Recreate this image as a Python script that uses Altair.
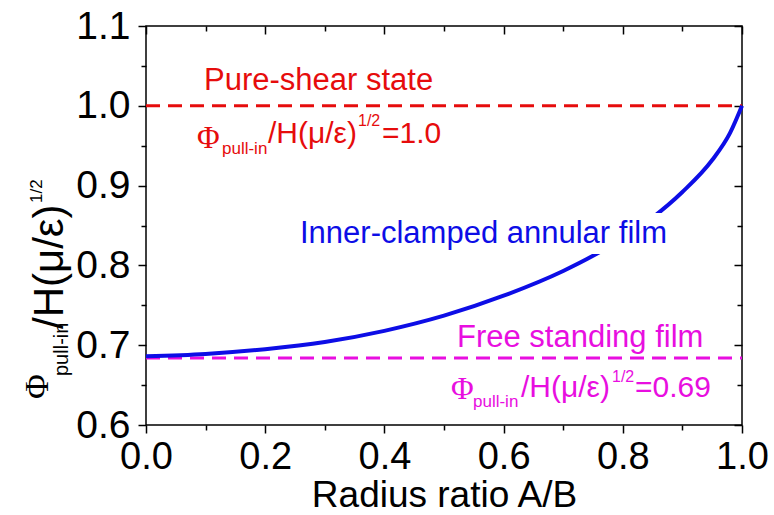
import altair as alt
import pandas as pd

# ---- data ----
ratio = [0.0, 0.1, 0.2, 0.3, 0.4, 0.5, 0.6, 0.7, 0.75, 0.8, 0.85, 0.9, 0.95, 0.98, 1.0]
phi = [0.686, 0.689, 0.695, 0.704, 0.718, 0.737, 0.762, 0.793, 0.812, 0.834, 0.860, 0.892, 0.932, 0.966, 1.0]
level_x = [0.0, 1.0]
shear_level = [1.0, 1.0]
free_level = [0.684, 0.684]

x_major = [0.0, 0.2, 0.4, 0.6, 0.8, 1.0]
x_minor = [0.1, 0.3, 0.5, 0.7, 0.9]
y_major = [0.6, 0.7, 0.8, 0.9, 1.0, 1.1]
y_minor = [0.65, 0.75, 0.85, 0.95, 1.05]

# ---- styling ----
W, H = 596, 399
L, T = 146, 26
SANS = "Liberation Sans"
SERIF = "Liberation Serif"
RED = "#e60c0c"
MAG = "#e80ee0"
BLUE = "#0d0de6"

curve_df = pd.DataFrame({"ratio": ratio, "phi": phi})
lev_df = pd.DataFrame({"x": level_x, "shear": shear_level, "free": free_level})
one = pd.DataFrame({"k": [0]})

xs = alt.Scale(domain=[0, 1], nice=False, zero=False)
ys = alt.Scale(domain=[0.6, 1.1], nice=False, zero=False)


def tick_axis(values, orient, size, offset=0):
    return alt.Axis(values=values, orient=orient, tickSize=size, offset=offset,
                    labels=False, domain=False, grid=False, ticks=True,
                    tickColor="black", tickWidth=1.5)


curve = alt.Chart(curve_df).mark_line(color=BLUE, strokeWidth=4, interpolate="monotone").encode(
    x=alt.X("ratio:Q", scale=xs, title="Radius ratio A/B",
            axis=alt.Axis(values=x_major, orient="bottom", tickSize=8, format=".1f",
                          labelFontSize=38, labelFont=SANS, labelColor="black",
                          labelPadding=5.5, labelFlush=False, labelOverlap=False,
                          domain=False, grid=False, tickColor="black", tickWidth=1.5,
                          titleFontSize=37, titleFont=SANS, titleFontWeight="normal",
                          titleColor="black", titleBaseline="alphabetic", titleY=81)),
    y=alt.Y("phi:Q", scale=ys, title=None,
            axis=alt.Axis(values=y_major, orient="left", tickSize=8, format=".1f",
                          labelFontSize=39, labelFont=SANS, labelColor="black",
                          labelPadding=8, labelFlush=False, labelOverlap=False,
                          domain=False, grid=False, tickColor="black", tickWidth=1.5)),
)

red = alt.Chart(lev_df).mark_line(color=RED, strokeWidth=3, strokeDash=[14, 8]).encode(
    x=alt.X("x:Q", scale=xs, title=None, axis=tick_axis(x_minor, "bottom", 5)),
    y=alt.Y("shear:Q", scale=ys, title=None, axis=tick_axis(y_minor, "left", 5)),
)

mag = alt.Chart(lev_df).mark_line(color=MAG, strokeWidth=3, strokeDash=[14, 8]).encode(
    x=alt.X("x:Q", scale=xs, title=None, axis=tick_axis(x_major, "top", 8, -8)),
    y=alt.Y("free:Q", scale=ys, title=None, axis=tick_axis(y_major, "right", 8, -8)),
)

ghost = alt.Chart(curve_df).mark_line(opacity=0).encode(
    x=alt.X("ratio:Q", scale=xs, title=None, axis=tick_axis(x_minor, "top", 5, -5)),
    y=alt.Y("phi:Q", scale=ys, title=None, axis=tick_axis(y_minor, "right", 5, -5)),
)

# white box behind the curve label
box = alt.Chart(one).mark_rect(color="white").encode(
    x=alt.value(296 - L), x2=alt.value(666 - L),
    y=alt.value(213 - T), y2=alt.value(254 - T),
)


def txt(s, px, py, size, color, font=SANS, angle=0):
    return alt.Chart(one).mark_text(
        text=s, align="left", baseline="alphabetic", fontSize=size,
        font=font, color=color, angle=angle,
    ).encode(x=alt.value(px - L), y=alt.value(py - T))


texts = [
    # red annotation
    txt("Pure-shear state", 204, 90, 31, RED),
    txt("Φ", 197, 148, 31, RED, SERIF),
    txt("pull-in", 222, 154, 17, RED),
    txt("/H(μ/ε)", 268, 143, 30, RED),
    txt("1/2", 358, 126, 16, RED),
    txt("=1.0", 382, 143, 30, RED),
    # blue label
    txt("Inner-clamped annular film", 300, 243, 31, BLUE),
    # magenta annotation
    txt("Free standing film", 457, 347, 31, MAG),
    txt("Φ", 451, 399, 31, MAG, SERIF),
    txt("pull-in", 473, 407, 17, MAG),
    txt("/H(μ/ε)", 521, 397, 30, MAG),
    txt("1/2", 612, 382, 16, MAG),
    txt("=0.69", 635, 397, 30, MAG),
    # y-axis title (rotated)
    txt("Φ", 48, 399, 34, "black", SERIF, 270),
    txt("pull-in", 68, 376, 20, "black", SANS, 270),
    txt("/H(μ/ε)", 63, 329, 42, "black", SANS, 270),
    txt("1/2", 42, 203, 17, "black", SANS, 270),
]

chart = alt.layer(red, mag, ghost, curve, box, *texts).resolve_axis(
    x="independent", y="independent"
).properties(
    width=W, height=H,
    padding={"left": L, "top": T, "right": 774 - L - W, "bottom": 515 - T - H},
    autosize=alt.AutoSizeParams(type="none"),
    background="white",
).configure_view(stroke="black", strokeWidth=1.5)

chart.save("out.html", embed_options={"renderer": "svg", "actions": False})
